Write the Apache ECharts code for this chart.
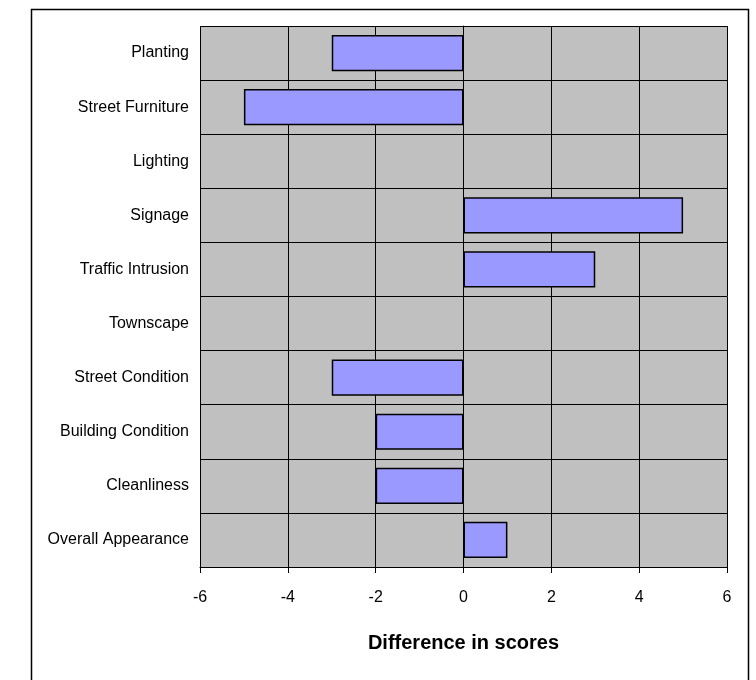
<!DOCTYPE html>
<html>
<head>
<meta charset="utf-8">
<script src="https://cdn.jsdelivr.net/npm/echarts@6/dist/echarts.min.js"></script>
<style>
  html, body { margin: 0; padding: 0; background: #fff; }
  #chart { width: 756px; height: 680px; }
</style>
</head>
<body>
<div id="chart"></div>
<script>
// categories top to bottom
const categories = [
    'Planting', 'Street Furniture', 'Lighting', 'Signage', 'Traffic Intrusion',
    'Townscape', 'Street Condition', 'Building Condition', 'Cleanliness', 'Overall Appearance'
];
const differences = [-3, -5, 0, 5, 3, 0, -3, -2, -2, 1];
const xTicks = [-6, -4, -2, 0, 2, 4, 6];

var chartDom = document.getElementById('chart');
var myChart = echarts.init(chartDom);
var font = '"Liberation Sans", Arial, sans-serif';

// zero-length bars draw nothing in the original
var barData = differences.map(function (v) {
    return v === 0 ? { value: v, itemStyle: { borderWidth: 0 } } : v;
});

var option = {
    animation: false,
    backgroundColor: '#fff',
    grid: {
        left: 200,
        top: 26,
        width: 527,
        height: 541,
        show: true,
        backgroundColor: '#C0C0C0',
        borderWidth: 0
    },
    graphic: [{
        type: 'rect',
        shape: { x: 31.5, y: 9.5, width: 717, height: 700 },
        style: { fill: 'none', stroke: '#000', lineWidth: 1.5 },
        silent: true
    }],
    xAxis: {
        type: 'value',
        min: xTicks[0],
        max: xTicks[xTicks.length - 1],
        interval: 2,
        name: 'Difference in scores',
        nameLocation: 'middle',
        nameGap: 66,
        nameTextStyle: { fontFamily: font, fontSize: 20, fontWeight: 'bold', color: '#000' },
        axisLine: { show: true, onZero: false, lineStyle: { color: '#000', width: 1 } },
        axisTick: { show: true, length: 6, lineStyle: { color: '#000' } },
        axisLabel: { fontFamily: font, fontSize: 16, color: '#000', margin: 23 },
        splitLine: { show: true, lineStyle: { color: '#000', width: 1 } }
    },
    yAxis: {
        type: 'category',
        data: categories,
        inverse: true,
        axisLine: { show: true, lineStyle: { color: '#000', width: 1 } },
        axisTick: { show: true, length: 5, lineStyle: { color: '#000' } },
        axisLabel: { fontFamily: font, fontSize: 16, color: '#000', margin: 11 },
        splitLine: { show: true, lineStyle: { color: '#000', width: 1 } }
    },
    series: [{
        type: 'bar',
        data: barData,
        barCategoryGap: '33%',
        itemStyle: { color: '#9999FF', borderColor: '#000', borderWidth: 1.5 }
    }]
};

option && myChart.setOption(option);
</script>
</body>
</html>
